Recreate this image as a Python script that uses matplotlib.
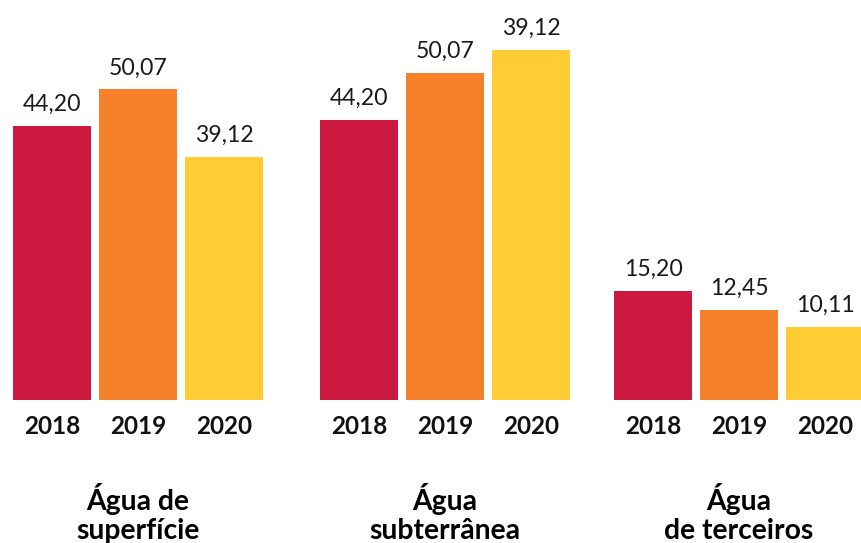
import matplotlib.pyplot as plt

plt.rcParams['font.family'] = ['Lato', 'DejaVu Sans']

# dados
anos = ["2018", "2019", "2020"]
grupos = ["Água de\nsuperfície", "Água\nsubterrânea", "Água\nde terceiros"]
# valores impressos sobre as barras
rotulos = [
    ["44,20", "50,07", "39,12"],
    ["44,20", "50,07", "39,12"],
    ["15,20", "12,45", "10,11"],
]
# alturas das barras (cada grupo com sua propria escala)
alturas_sup = [44.20, 50.07, 39.12]
alturas_sub = [45.2, 52.7, 56.5]
alturas_ter = [15.20, 12.45, 10.11]
alturas = [alturas_sup, alturas_sub, alturas_ter]
topo = [64.5, 64.5, 55.6]  # limite do eixo y de cada grupo

cores = ["#CC1940", "#F5822A", "#FFCC33"]

W, H = 861, 543
fig = plt.figure(figsize=(W / 100, H / 100), dpi=100)

esquerdas = [13, 320, 614]
base = 400
for g in range(3):
    ax = fig.add_axes([esquerdas[g] / W, (H - base) / H, 250 / W, base / H])
    x = range(len(anos))
    barras = ax.bar(x, alturas[g], width=78 / 86, color=cores)
    ax.bar_label(barras, labels=rotulos[g], padding=8, fontsize=16.6, color="#1a1a1a")
    ax.set_xlim(-0.4535, 2.4535)
    ax.set_ylim(0, topo[g])
    ax.set_xticks(list(x))
    ax.set_xticklabels(anos, fontsize=17.5, fontweight="bold", color="#111111")
    ax.tick_params(axis="x", length=0, pad=11)
    ax.set_yticks([])
    for s in ax.spines.values():
        s.set_visible(False)
    ax.patch.set_alpha(0)

    # nome do grupo, em duas linhas
    cx = (esquerdas[g] + 125) / W
    linhas = grupos[g].split("\n")
    for i, linha in enumerate(linhas):
        fig.text(cx, (H - 510 - 29 * i) / H, linha, ha="center", va="baseline",
                 fontsize=20.3, fontweight="bold", color="#000000")

fig.savefig("out.png", dpi=100)
